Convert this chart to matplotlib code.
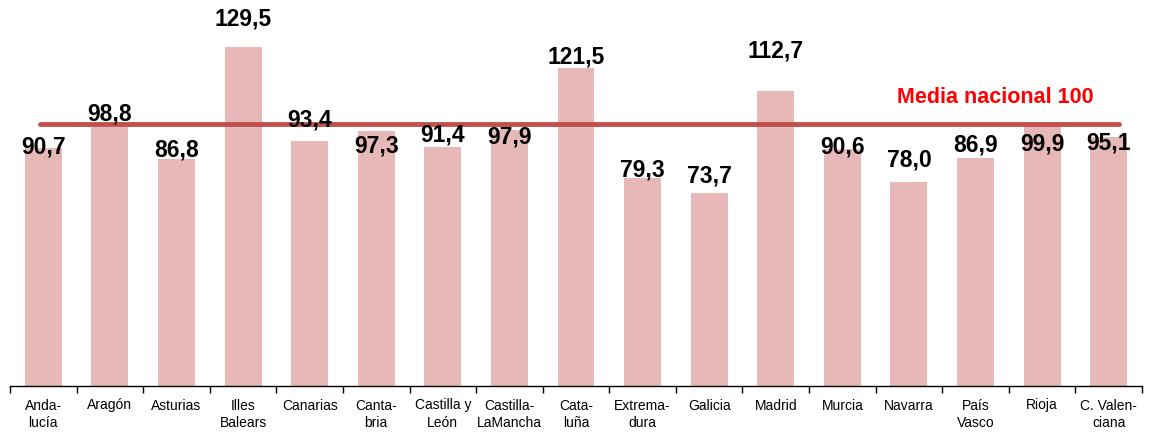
import matplotlib
matplotlib.use("Agg")
import matplotlib.pyplot as plt
import numpy as np

categories = ["Anda-\nlucía", "Aragón", "Asturias", "Illes\nBalears", "Canarias", "Canta-\nbria",
              "Castilla y\nLeón", "Castilla-\nLaMancha", "Cata-\nluña", "Extrema-\ndura", "Galicia",
              "Madrid", "Murcia", "Navarra", "País\nVasco", "Rioja", "C. Valen-\nciana"]
values = [90.7, 98.8, 86.8, 129.5, 93.4, 97.3, 91.4, 97.9, 121.5, 79.3, 73.7, 112.7, 90.6, 78.0, 86.9, 99.9, 95.1]
value_labels = ["90,7", "98,8", "86,8", "129,5", "93,4", "97,3", "91,4", "97,9", "121,5", "79,3", "73,7",
                "112,7", "90,6", "78,0", "86,9", "99,9", "95,1"]
# label placement offsets (value units) relative to bar top
label_offsets = [0.4, 5.2, 3.2, 10.7, 8.2, -5.6, 4.5, -2.8, 4.2, 3.2, 6.5, 15.3, 0.6, 8.4, 5.2, -7.4, -2.3]
national_mean = 100
mean_label = "Media nacional 100"

plt.rcParams['font.family'] = ['Liberation Sans', 'DejaVu Sans']

fig = plt.figure(figsize=(11.51, 4.33), dpi=100)
ax = fig.add_axes([10/1151, 47/433, 1132/1151, 386/433])

x = np.arange(len(categories))
ax.bar(x, values, width=0.555, color="#E6B8B7", zorder=2)

ax.set_xlim(-0.5, len(categories) - 0.5)
ax.set_ylim(0, 147.4)

ax.plot([-0.05, 16.15], [national_mean, national_mean], color="#C0504D", lw=3.5,
        solid_capstyle="round", zorder=3)
ax.text(14.29, national_mean + 10.0, mean_label, color="#FF0000", fontsize=15.5,
        fontweight="bold", ha="center", va="center", zorder=4)

for xi, v, lab, off in zip(x, values, value_labels, label_offsets):
    ax.text(xi, v + off, lab, ha="center", va="center", fontsize=16.5, fontweight="bold",
            color="black", zorder=5)

for s in ["top", "right", "left"]:
    ax.spines[s].set_visible(False)
ax.spines["bottom"].set_linewidth(1.0)
ax.set_yticks([])
ax.set_xticks(x)
ax.set_xticklabels(categories, fontsize=10, linespacing=1.3)
ax.tick_params(axis="x", which="major", length=0, pad=9)
ax.set_xticks(np.arange(-0.5, len(categories), 1.0), minor=True)
ax.tick_params(axis="x", which="minor", length=5, width=1.0, direction="out")

fig.savefig("out.png", dpi=100)
